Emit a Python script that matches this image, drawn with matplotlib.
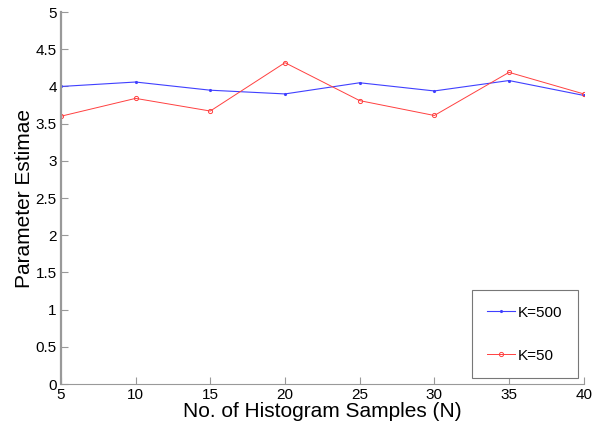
import matplotlib.pyplot as plt
from matplotlib.ticker import FuncFormatter
import numpy as np

plt.rcParams['font.family'] = ['Liberation Sans', 'DejaVu Sans']

##values
samples = [5, 10, 15, 20, 25, 30, 35, 40]
k500 = [4.00, 4.06, 3.95, 3.90, 4.05, 3.94, 4.08, 3.88]
k50 = [3.60, 3.84, 3.67, 4.32, 3.81, 3.61, 4.19, 3.90]
xticks = [5, 10, 15, 20, 25, 30, 35, 40]
yticks = np.arange(0, 5.01, 0.5)

fig = plt.figure(figsize=(6.03, 4.32), dpi=100)
ax = fig.add_axes([0.101, 0.111, 0.867, 0.861])

ax.plot(samples, k500, color='#4040ff', lw=0.8, marker='.', markersize=2.5, label='K=500')
ax.plot(samples, k50, color='#ff4040', lw=0.7, marker='o', markersize=3,
		markerfacecolor='none', markeredgewidth=0.7, label='K=50')

ax.set_xlim(5, 40)
ax.set_ylim(0, 5)
ax.set_xticks(xticks)
ax.set_yticks(yticks)
ax.yaxis.set_major_formatter(FuncFormatter(lambda v, p: '%g' % v))

##matlab-ish look, only left and bottom axis in gray
for s in ['top', 'right']:
	ax.spines[s].set_visible(False)
for s in ['left', 'bottom']:
	ax.spines[s].set_color('#999999')
ax.spines['left'].set_linewidth(1.6)
ax.spines['bottom'].set_linewidth(0.8)
ax.tick_params(direction='in', length=5, width=0.8, color='#999999', labelsize=11, pad=3)

ax.set_xlabel('No. of Histogram Samples (N)', fontsize=15, labelpad=0)
ax.set_ylabel('Parameter Estimae', fontsize=15, labelpad=1)

leg = ax.legend(loc='lower right', borderaxespad=0.4, fontsize=11,
				labelspacing=1.9, handlelength=1.8, handletextpad=0.2, borderpad=1.0,
				fancybox=False, framealpha=1, edgecolor='#777777')
leg.get_frame().set_linewidth(0.8)

plt.savefig('out.png', dpi=100)
